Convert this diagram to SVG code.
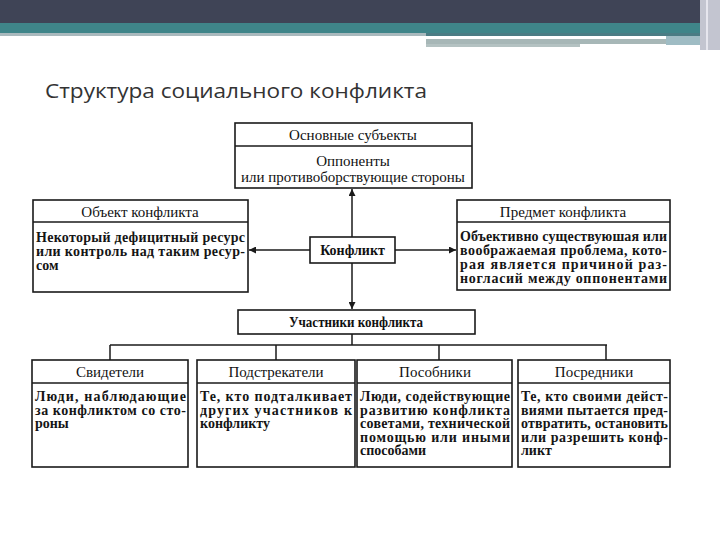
<svg xmlns="http://www.w3.org/2000/svg" width="720" height="540" viewBox="0 0 720 540">
<style>
.box{fill:#fff;stroke:#1a1a1a;stroke-width:1.6}
.div{stroke:#1a1a1a;stroke-width:1.4}
.hd{font-family:"Liberation Serif","DejaVu Serif",serif;font-size:15px;fill:#111;text-anchor:middle}
.bd{font-family:"Liberation Serif","DejaVu Serif",serif;font-size:14px;font-weight:bold;fill:#151515}
.bh{font-family:"Liberation Serif","DejaVu Serif",serif;font-size:14px;font-weight:bold;fill:#111;text-anchor:middle}
.ln{stroke:#1a1a1a;stroke-width:1.5;fill:none}
</style>
<defs>
<marker id="ah" viewBox="0 0 10 10" refX="10" refY="5" markerWidth="9" markerHeight="7" markerUnits="userSpaceOnUse" orient="auto">
<path d="M0,0 L10,5 L0,10 Z" fill="#1a1a1a"/>
</marker>
</defs>
<g id="header">
<rect x="0" y="0" width="720" height="23" fill="#3f4456"/>
<rect x="0" y="23" width="720" height="10" fill="#3f8589"/>
<rect x="0" y="33" width="426" height="3" fill="#a9b9bd"/>
<rect x="426" y="33" width="274" height="3" fill="#4b7c84"/>
<rect x="426" y="36" width="240" height="3" fill="#ffffff"/>
<rect x="426" y="39" width="240" height="5" fill="#a7b7b7"/>
<rect x="426" y="44" width="154" height="3" fill="#b4c2c2"/>
<rect x="666" y="36" width="34" height="9" fill="#9fbcc4"/>
<rect x="700" y="0" width="20" height="50" fill="#c3c5d0"/>
<rect x="706" y="0" width="2" height="50" fill="#e6e6ee"/>
</g>
<text id="title" x="45" y="98" font-family="Open Sans, 'DejaVu Sans', sans-serif" font-size="20" fill="#333" textLength="382" lengthAdjust="spacingAndGlyphs">Структура социального конфликта</text>

<g id="connectors">
<line class="ln" x1="352" y1="237" x2="352" y2="189" marker-end="url(#ah)"/>
<line class="ln" x1="310" y1="250" x2="249" y2="250" marker-end="url(#ah)"/>
<line class="ln" x1="395" y1="250" x2="456" y2="250" marker-end="url(#ah)"/>
<line class="ln" x1="352" y1="263" x2="352" y2="309" marker-end="url(#ah)"/>
<line class="ln" x1="352" y1="334" x2="352" y2="345"/>
<line class="ln" x1="110" y1="345" x2="607" y2="345"/>
<line class="ln" x1="110" y1="345" x2="110" y2="360"/>
<line class="ln" x1="276" y1="345" x2="276" y2="360"/>
<line class="ln" x1="439" y1="345" x2="439" y2="360"/>
<line class="ln" x1="606" y1="345" x2="606" y2="360"/>
</g>

<g id="subjects">
<rect class="box" x="235" y="123" width="237" height="65"/>
<line class="div" x1="235" y1="146" x2="472" y2="146"/>
<text class="hd" x="353" y="140">Основные субъекты</text>
<text class="hd" x="353" y="166">Оппоненты</text>
<text class="hd" x="353" y="182">или противоборствующие стороны</text>
</g>

<g id="object">
<rect class="box" x="33" y="200" width="215" height="92"/>
<line class="div" x1="33" y1="222" x2="248" y2="222"/>
<text class="hd" x="140" y="217">Объект конфликта</text>
<text class="bd" x="36" y="242" textLength="209" lengthAdjust="spacing">Некоторый дефицитный ресурс</text>
<text class="bd" x="36" y="256" textLength="209" lengthAdjust="spacing">или контроль над таким ресур-</text>
<text class="bd" x="36" y="270">сом</text>
</g>

<g id="subject">
<rect class="box" x="457" y="200" width="213" height="90"/>
<line class="div" x1="457" y1="222" x2="670" y2="222"/>
<text class="hd" x="563" y="217">Предмет конфликта</text>
<text class="bd" x="460" y="241" textLength="207" lengthAdjust="spacing">Объективно существуюшая или</text>
<text class="bd" x="460" y="255" textLength="207" lengthAdjust="spacing">воображаемая проблема, кото-</text>
<text class="bd" x="460" y="269" textLength="207" lengthAdjust="spacing">рая является причиной раз-</text>
<text class="bd" x="460" y="283" textLength="207" lengthAdjust="spacing">ногласий между оппонентами</text>
</g>

<g id="conflict">
<rect class="box" x="310" y="237" width="85" height="26"/>
<text class="bh" x="352.5" y="255">Конфликт</text>
</g>

<g id="participants">
<rect class="box" x="238" y="310" width="237" height="24"/>
<text class="bh" x="356" y="327" textLength="134" lengthAdjust="spacingAndGlyphs">Участники конфликта</text>
</g>

<g id="witnesses">
<rect class="box" x="32" y="360" width="156" height="107"/>
<line class="div" x1="32" y1="383" x2="188" y2="383"/>
<text class="hd" x="110" y="377">Свидетели</text>
<text class="bd" x="35" y="401" textLength="151" lengthAdjust="spacing">Люди, наблюдающие</text>
<text class="bd" x="35" y="414.5" textLength="151" lengthAdjust="spacing">за конфликтом со сто-</text>
<text class="bd" x="35" y="428">роны</text>
</g>

<g id="instigators">
<rect class="box" x="197" y="360" width="158" height="107"/>
<line class="div" x1="197" y1="383" x2="355" y2="383"/>
<text class="hd" x="276" y="377">Подстрекатели</text>
<text class="bd" x="200" y="401" textLength="152" lengthAdjust="spacing">Те, кто подталкивает</text>
<text class="bd" x="200" y="414.5" textLength="152" lengthAdjust="spacing">других участников к</text>
<text class="bd" x="200" y="428">конфликту</text>
</g>

<g id="accomplices">
<rect class="box" x="357" y="360" width="155" height="107"/>
<line class="div" x1="357" y1="383" x2="512" y2="383"/>
<text class="hd" x="435" y="377">Пособники</text>
<text class="bd" x="360" y="401" textLength="150" lengthAdjust="spacing">Люди, содействующие</text>
<text class="bd" x="360" y="414.5" textLength="150" lengthAdjust="spacing">развитию конфликта</text>
<text class="bd" x="360" y="428" textLength="150" lengthAdjust="spacing">советами, технической</text>
<text class="bd" x="360" y="441.5" textLength="150" lengthAdjust="spacing">помощью или иными</text>
<text class="bd" x="360" y="455">способами</text>
</g>

<g id="mediators">
<rect class="box" x="518" y="360" width="152" height="107"/>
<line class="div" x1="518" y1="383" x2="670" y2="383"/>
<text class="hd" x="594" y="377">Посредники</text>
<text class="bd" x="521" y="401" textLength="147" lengthAdjust="spacing">Те, кто своими дейст-</text>
<text class="bd" x="521" y="414.5" textLength="147" lengthAdjust="spacing">виями пытается пред-</text>
<text class="bd" x="521" y="428" textLength="147" lengthAdjust="spacing">отвратить, остановить</text>
<text class="bd" x="521" y="441.5" textLength="147" lengthAdjust="spacing">или разрешить конф-</text>
<text class="bd" x="521" y="455">ликт</text>
</g>
</svg>
